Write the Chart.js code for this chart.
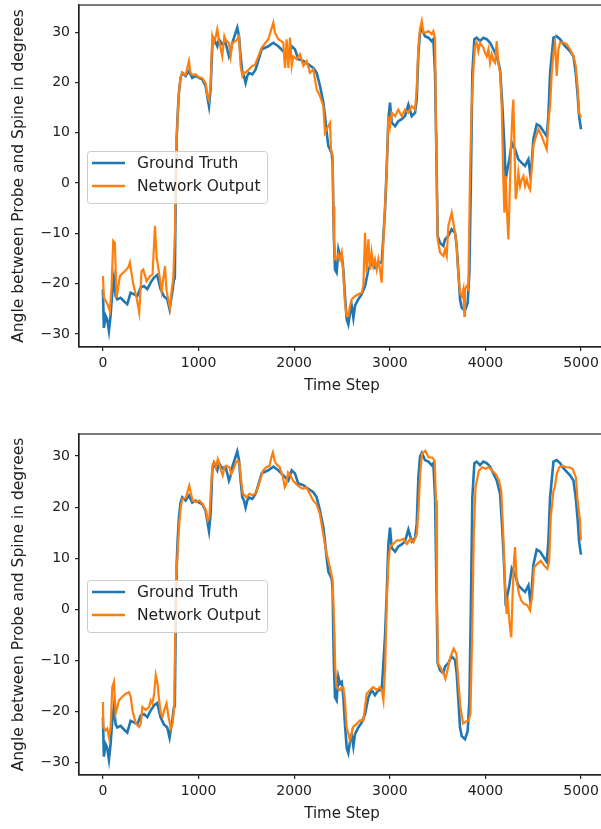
<!DOCTYPE html>
<html><head><meta charset="utf-8">
<script src="https://cdn.jsdelivr.net/npm/chart.js@4.4.1/dist/chart.umd.min.js"></script>
<style>
html,body{margin:0;padding:0;background:#fff;overflow:hidden;width:601px;height:829px;position:relative}
canvas{position:absolute;left:0}
</style></head><body>
<canvas id="c1" width="620" height="410" style="top:0px"></canvas>
<canvas id="c2" width="620" height="414" style="top:415px"></canvas>
<script>
// ---------- data ----------
const seriesLabels = ['Ground Truth', 'Network Output'];
const xTickValues = [0, 1000, 2000, 3000, 4000, 5000];
const xTickLabels = ['0', '1000', '2000', '3000', '4000', '5000'];
const yTickValues = [-30, -20, -10, 0, 10, 20, 30];
const yTickLabels = ['\u221230', '\u221220', '\u221210', '0', '10', '20', '30'];
const xTitle = 'Time Step';
const yTitle = 'Angle between Probe and Spine in degrees';

const gtSteps = [0,10,28,45,63,80,98,115,133,150,185,220,255,289,324,359,394,429,464,499,534,568,603,638,673,697,725,743,752,765,771,781,795,812,830,865,900,934,969,1004,1039,1074,1091,1109,1126,1144,1161,1179,1196,1213,1248,1283,1318,1336,1353,1388,1405,1423,1440,1458,1475,1492,1510,1527,1562,1597,1660,1729,1782,1834,1886,1939,1974,2008,2043,2096,2148,2200,2235,2270,2305,2322,2340,2357,2392,2402,2409,2416,2427,2444,2462,2479,2497,2514,2531,2549,2566,2584,2601,2619,2636,2671,2706,2741,2776,2810,2845,2880,2915,2933,2950,2967,2985,3002,3020,3055,3089,3124,3159,3194,3229,3264,3281,3299,3316,3334,3368,3403,3438,3455,3473,3490,3500,3525,3560,3577,3612,3647,3682,3699,3717,3734,3752,3786,3814,3832,3849,3863,3884,3908,3943,3978,4013,4048,4083,4118,4153,4177,4198,4212,4229,4250,4275,4310,4344,4379,4414,4449,4466,4484,4501,4536,4571,4606,4641,4658,4676,4711,4745,4780,4815,4850,4885,4920,4944,4965,4979,4999];
const gtAngles = [-21.1,-28.8,-26.4,-27.1,-29.4,-26.4,-21.8,-19.1,-22.5,-23.1,-22.8,-23.5,-24.1,-21.8,-22.1,-22.5,-20.8,-20.5,-21.1,-19.8,-18.8,-18.3,-21.1,-22.5,-23.1,-25.1,-21.8,-19.1,-19.0,5.0,8.7,13.3,18.0,20.9,21.9,21.3,22.3,20.9,21.3,20.9,20.6,19.3,17.3,15.3,18.6,27.2,28.6,27.9,27.2,28.6,27.6,27.9,25.2,26.2,27.9,29.9,30.9,29.2,25.2,21.9,21.3,19.9,21.3,21.9,21.6,22.6,26.6,27.2,27.9,27.2,26.2,25.2,27.2,26.6,24.6,24.3,23.6,22.9,21.9,19.3,16.0,13.3,10.0,7.4,6.0,4.0,-4.6,-11.2,-17.2,-17.8,-13.2,-14.5,-14.2,-17.2,-22.5,-27.1,-28.1,-25.8,-24.4,-26.8,-24.4,-23.1,-22.1,-20.5,-17.2,-15.8,-16.8,-15.8,-15.8,-10.5,-5.2,2.7,12.7,16.0,12.0,11.3,12.3,12.7,13.3,15.6,13.3,14.0,16.6,25.9,29.9,30.6,29.2,28.9,28.2,28.6,21.9,2.1,-10.5,-11.9,-12.5,-11.2,-10.5,-9.2,-9.9,-12.5,-17.8,-23.1,-24.8,-25.4,-23.8,-17.8,2.1,21.9,28.6,28.9,28.2,28.9,28.6,27.9,26.6,25.2,22.6,15.3,7.4,0.7,2.7,4.7,8.0,6.7,4.7,4.0,3.4,4.7,2.1,4.0,8.7,11.7,11.3,10.3,9.3,13.3,21.9,28.9,29.2,28.6,27.6,26.9,26.2,25.2,21.9,17.3,13.3,10.7];

const netASteps = [0,10,31,48,73,90,108,125,143,178,230,265,282,317,352,380,404,422,457,492,519,544,562,590,614,649,666,701,718,736,753,760,771,781,795,812,830,865,900,915,934,969,1004,1039,1074,1091,1109,1126,1144,1161,1179,1196,1213,1248,1270,1283,1318,1336,1353,1388,1405,1423,1440,1458,1475,1492,1510,1527,1562,1590,1660,1729,1782,1799,1834,1886,1904,1921,1939,1956,1974,1991,2026,2061,2096,2130,2165,2200,2235,2270,2305,2322,2340,2375,2385,2402,2409,2416,2427,2444,2462,2479,2497,2514,2531,2549,2566,2584,2601,2636,2671,2706,2723,2741,2758,2776,2793,2810,2828,2845,2863,2880,2898,2915,2933,2950,2967,2985,3002,3020,3055,3089,3124,3159,3194,3229,3264,3281,3299,3316,3334,3351,3368,3403,3438,3455,3473,3483,3490,3500,3525,3560,3577,3595,3612,3630,3647,3664,3682,3699,3717,3734,3752,3769,3779,3786,3804,3821,3839,3856,3874,3891,3908,3926,3943,3978,3996,4013,4031,4048,4065,4083,4100,4118,4135,4153,4170,4187,4198,4212,4222,4240,4250,4268,4282,4292,4303,4316,4327,4344,4362,4379,4397,4414,4432,4449,4466,4484,4501,4519,4554,4588,4606,4641,4658,4676,4693,4711,4728,4745,4763,4780,4815,4850,4885,4920,4944,4965,4979,4999];
const netAAngles = [-18.5,-22.8,-23.5,-24.1,-25.4,-20.8,-11.5,-11.9,-22.8,-18.5,-17.5,-16.8,-15.8,-20.1,-22.8,-25.8,-17.5,-17.2,-19.5,-18.5,-18.2,-8.5,-14.8,-18.2,-21.5,-16.5,-21.5,-24.8,-21.5,-18.8,-10.0,-1.6,8.7,13.0,18.0,21.0,21.9,21.5,24.3,22.0,21.5,21.6,21.0,20.9,19.8,17.5,16.5,19.5,29.2,28.0,29.0,30.6,28.5,25.2,29.2,28.5,27.9,25.2,27.9,28.2,28.6,29.2,23.3,21.3,22.0,21.9,22.3,22.6,23.3,23.5,26.9,28.6,31.9,29.9,28.6,27.9,22.9,28.6,22.9,28.9,23.3,25.2,24.6,25.6,23.3,24.3,21.9,22.6,18.6,17.3,15.3,10.0,10.7,12.0,6.7,5.4,-4.6,-11.2,-15.2,-15.2,-14.2,-15.2,-13.8,-17.8,-23.8,-26.4,-26.4,-24.4,-23.1,-22.5,-22.1,-21.8,-20.5,-9.9,-17.8,-11.2,-17.2,-13.8,-16.5,-15.2,-17.2,-15.2,-17.2,-19.8,-11.2,-4.6,2.1,13.3,11.3,14.0,13.3,14.6,13.3,14.6,14.0,15.3,14.6,18.6,27.2,30.6,32.2,29.9,29.9,30.2,29.6,30.2,28.6,10.0,2.1,-11.2,-13.8,-14.5,-13.2,-14.5,-8.5,-7.2,-5.9,-7.9,-9.9,-12.5,-18.5,-21.8,-22.5,-21.1,-26.4,-21.1,-20.5,-21.1,2.1,15.3,22.6,27.2,27.9,26.2,27.9,26.9,25.9,25.2,26.6,23.9,25.6,24.3,23.9,28.2,23.9,21.9,15.3,0.7,-5.9,1.4,-4.6,-11.2,-4.6,7.4,14.0,16.6,7.4,-3.2,-1.9,2.1,-0.6,0.7,1.4,-0.6,0.7,-0.6,-1.3,2.7,7.4,8.7,10.7,9.3,8.4,6.7,12.0,15.3,21.9,25.9,27.9,21.3,26.6,27.9,27.9,27.6,26.6,25.2,23.3,18.6,14.0,13.0];

const netBSteps = [0,4,28,46,63,81,98,116,133,151,168,203,238,273,291,308,343,378,396,413,448,483,501,518,536,553,571,588,606,623,641,665,686,711,728,746,756,770,784,798,816,833,868,903,921,938,973,1008,1043,1078,1096,1113,1131,1148,1166,1183,1201,1218,1236,1253,1271,1288,1323,1341,1358,1393,1411,1428,1446,1463,1481,1498,1533,1568,1603,1638,1673,1708,1743,1761,1778,1796,1813,1848,1883,1901,1918,1936,1953,1988,2023,2058,2093,2128,2163,2198,2233,2268,2303,2338,2373,2401,2415,2429,2443,2478,2496,2513,2531,2548,2566,2583,2601,2618,2653,2688,2723,2758,2793,2828,2863,2898,2916,2933,2951,2968,2986,3003,3038,3073,3108,3143,3178,3213,3248,3283,3301,3318,3336,3371,3406,3441,3469,3483,3493,3504,3528,3563,3581,3598,3633,3668,3696,3714,3738,3766,3791,3826,3843,3861,3878,3896,3931,3966,4001,4036,4071,4106,4141,4165,4186,4204,4221,4235,4256,4270,4284,4298,4309,4326,4351,4375,4403,4438,4466,4491,4508,4543,4578,4613,4648,4666,4683,4711,4725,4746,4771,4806,4841,4876,4911,4946,4963,4988,4998];
const netBAngles = [-18.1,-23.0,-23.7,-23.3,-25.0,-23.0,-15.2,-14.2,-20.4,-19.1,-17.8,-17.1,-16.5,-16.2,-17.1,-19.7,-22.3,-23.0,-22.3,-19.1,-19.7,-19.1,-17.8,-18.4,-16.5,-12.9,-14.5,-17.8,-20.4,-21.0,-19.7,-18.4,-21.0,-23.3,-22.3,-19.1,-4.8,7.0,12.2,16.7,20.3,21.6,21.9,24.2,22.6,21.3,21.0,21.3,20.6,19.3,17.4,18.0,23.9,28.4,28.8,27.8,29.4,28.4,27.1,26.2,27.8,28.1,27.8,26.5,27.1,28.8,29.1,28.4,25.2,22.6,22.3,21.9,22.6,22.3,22.9,24.9,27.1,27.8,28.1,29.7,30.7,29.1,28.4,27.8,25.8,23.9,24.5,26.8,26.5,25.2,24.5,23.9,23.6,23.9,22.6,21.3,20.6,18.7,14.8,10.9,8.3,5.7,-1.5,-11.3,-15.2,-15.8,-15.2,-15.2,-17.8,-23.0,-24.3,-25.6,-24.3,-23.0,-22.4,-21.7,-21.7,-16.5,-15.8,-15.2,-15.8,-15.2,-15.8,-17.8,-11.3,1.7,9.5,12.2,12.8,13.5,13.5,13.8,12.8,13.8,13.1,14.8,20.0,26.5,30.4,31.0,29.7,29.7,29.1,21.3,1.7,-10.6,-11.3,-12.6,-13.6,-12.3,-9.3,-7.7,-8.7,-13.3,-19.1,-22.3,-22.0,-21.7,-20.4,-4.8,14.8,23.9,27.1,27.8,27.5,27.8,27.1,26.5,25.2,23.2,14.8,5.0,-0.9,1.1,-3.5,-5.5,3.0,9.5,12.2,5.6,3.0,1.7,1.1,0.8,-0.2,3.0,8.2,8.9,9.5,8.6,7.9,9.5,18.0,23.2,23.9,26.5,27.8,28.1,27.8,27.8,27.5,25.8,21.3,17.4,13.5];

// ---------- style ----------
const FONT = 'DejaVu Sans';
const INK = '#222222';
const BLUE = '#1f77b4';
const ORANGE = '#ff7f0e';

function pts(xs, ys) { return xs.map((x, i) => ({x: x, y: ys[i]})); }

const framePlugin = {
  id: 'frameLegend',
  afterDatasetsDraw(chart) {
    const ctx = chart.ctx, a = chart.chartArea;
    ctx.save();
    ctx.strokeStyle = INK; ctx.lineWidth = 1.2;
    ctx.strokeRect(a.left, a.top, a.right - a.left, a.bottom - a.top);
    // legend box
    const bx = a.left + 8, by = a.top + 146, bw = 180, bh = 52;
    ctx.beginPath();
    if (ctx.roundRect) ctx.roundRect(bx + 0.5, by + 0.5, bw, bh, 3); else ctx.rect(bx + 0.5, by + 0.5, bw, bh);
    ctx.fillStyle = 'rgba(255,255,255,0.8)'; ctx.fill();
    ctx.strokeStyle = '#cccccc'; ctx.lineWidth = 1; ctx.stroke();
    chart.data.datasets.forEach((ds, i) => {
      const y = by + 12 + i * 23;
      ctx.beginPath(); ctx.strokeStyle = ds.borderColor; ctx.lineWidth = 2.4;
      ctx.moveTo(bx + 5, y); ctx.lineTo(bx + 38, y); ctx.stroke();
      ctx.fillStyle = INK; ctx.font = '15.5px "' + FONT + '"'; ctx.textBaseline = 'middle'; ctx.textAlign = 'left';
      ctx.fillText(ds.label, bx + 50, y + 1);
    });
    ctx.restore();
  }
};

function makeChart(id, netSteps, netAngles, yMin, yMax, padTop, padBottom) {
  return new Chart(document.getElementById(id), {
    type: 'line',
    data: {
      datasets: [
        {label: seriesLabels[0], data: pts(gtSteps, gtAngles), borderColor: BLUE, backgroundColor: BLUE, borderWidth: 2.6, pointRadius: 0, tension: 0, order: 2},
        {label: seriesLabels[1], data: pts(netSteps, netAngles), borderColor: ORANGE, backgroundColor: ORANGE, borderWidth: 2.2, pointRadius: 0, tension: 0, order: 1}
      ]
    },
    options: {
      responsive: false, animation: false, devicePixelRatio: 1,
      layout: {padding: {left: 0, right: 15, top: padTop, bottom: padBottom}},
      plugins: {legend: {display: false}, tooltip: {enabled: false}},
      scales: {
        x: {
          type: 'linear', min: -250, max: 5250,
          afterBuildTicks: s => { s.ticks = xTickValues.map(v => ({value: v})); },
          afterFit: s => { s.height = 50; s.paddingLeft = 0; s.paddingRight = 0; },
          ticks: {callback: (v, i) => xTickLabels[i], font: {family: FONT, size: 14}, color: INK, padding: 4, maxRotation: 0, autoSkip: false},
          grid: {drawOnChartArea: false, drawTicks: true, tickLength: 4, color: INK, lineWidth: 1.2},
          border: {display: true, color: INK, width: 1.2},
          title: {display: true, text: xTitle, font: {family: FONT, size: 15}, color: INK, padding: {top: 0, bottom: 2}}
        },
        y: {
          type: 'linear', min: yMin, max: yMax,
          afterBuildTicks: s => { s.ticks = yTickValues.map(v => ({value: v})); },
          afterFit: s => { s.width = 79; s.paddingTop = 0; s.paddingBottom = 0; },
          ticks: {callback: (v, i) => yTickLabels[i], font: {family: FONT, size: 14}, color: INK, padding: 5, autoSkip: false},
          grid: {drawOnChartArea: false, drawTicks: true, tickLength: 4, color: INK, lineWidth: 1.2},
          border: {display: true, color: INK, width: 1.2},
          title: {display: true, text: yTitle, font: {family: FONT, size: 15.5}, color: INK, padding: {top: 10, bottom: 0}}
        }
      }
    },
    plugins: [framePlugin]
  });
}

makeChart('c1', netASteps, netAAngles, -32.6, 35.4, 5, 13);
makeChart('c2', netBSteps, netBAngles, -32.4, 34.3, 19, 4);
</script>
</body></html>
